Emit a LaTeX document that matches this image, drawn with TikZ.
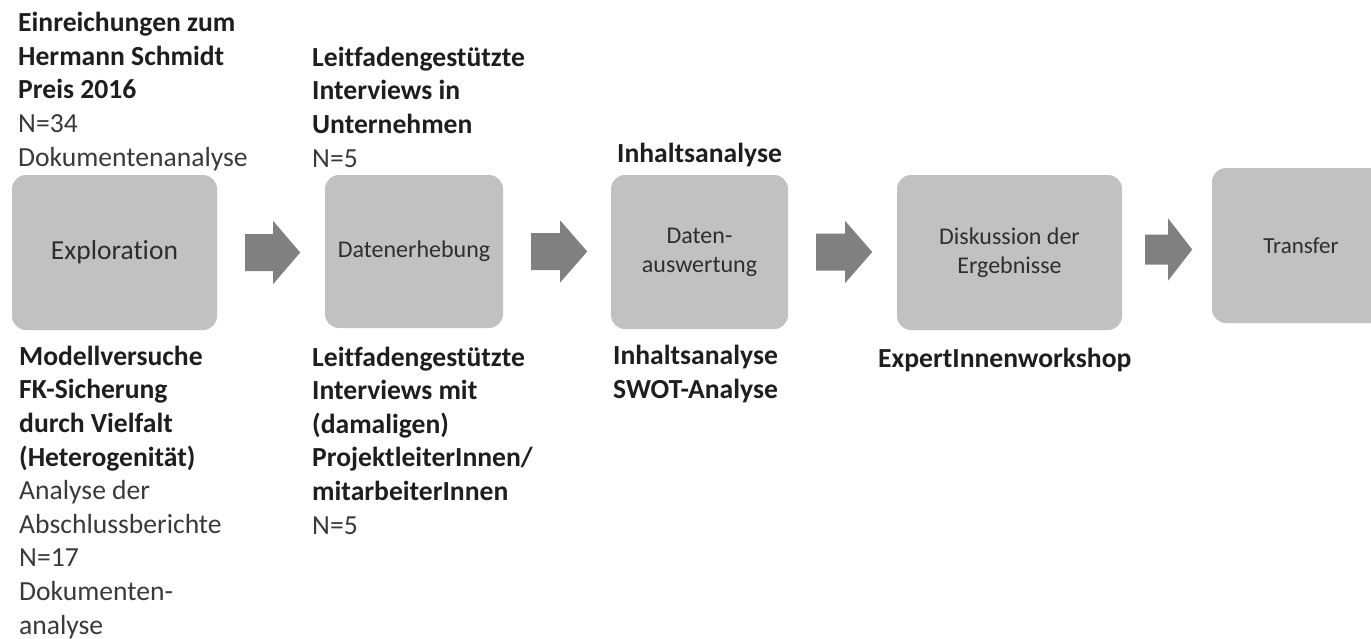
\documentclass[tikz,border=0pt]{standalone}
\usepackage{fontspec}
\setmainfont[Ligatures=CommonOff]{Carlito}
\usetikzlibrary{calc}
\definecolor{boxfill}{HTML}{C1C1C1}
\definecolor{arrowfill}{HTML}{808080}
\definecolor{boldtxt}{HTML}{1E1E1E}
\definecolor{regtxt}{HTML}{3A3A3A}
\definecolor{boxtxt}{HTML}{2E2E2E}
\tikzset{
  stepbox/.style={rectangle, rounded corners=14pt, fill=boxfill, draw=none, inner sep=0pt,
    align=center, text=boxtxt, font=\fontsize{24}{29}\selectfont},
  label/.style={anchor=base west, align=left, inner sep=0pt, text=regtxt,
    font=\fontsize{27.6}{33.6}\selectfont},
}
\newcommand{\bt}[1]{\textcolor{boldtxt}{\bfseries #1}}
% block arrow: #1 = start coordinate (left end, on axis), #2 length, #3 head length, #4 shaft half height, #5 head half height
\newcommand{\blockarrow}[5]{%
  \fill[arrowfill] (#1) ++(0,-#4) -- ++({#2-#3},0) -- ++(0,{#4-#5}) -- ++(#3,#5)
    -- ++(-#3,#5) -- ++(0,{#4-#5}) -- ++({-(#2-#3)},0) -- cycle;}
\begin{document}
\begin{tikzpicture}[x=1pt,y=-1pt]
\useasboundingbox (0,0) rectangle (1371,638);
\fill[white] (0,0) rectangle (1371,638);
\clip (0,0) rectangle (1371,638);

% boxes
\node[stepbox, minimum width=205pt, minimum height=155pt, font=\fontsize{27.5}{33}\selectfont] (b1) at (114.5,252.5) {Exploration};
\node[stepbox, minimum width=178pt, minimum height=153pt] (b2) at (414,251.5) {Datenerhebung};
\node[stepbox, minimum width=177pt, minimum height=154pt] (b3) at (699.5,252) {Daten-\\auswertung};
\node[stepbox, minimum width=225pt, minimum height=155pt] (b4) at (1009.5,252.5) {Diskussion der\\Ergebnisse};
\node[stepbox, minimum width=178pt, minimum height=155pt, font=\fontsize{23}{28}\selectfont] (b5) at (1301,245.5) {Transfer};

% arrows between boxes
\coordinate (a1) at ($(b1.east)+(28,0)$);
\coordinate (a2) at ($(b2.east)+(28,0)$);
\coordinate (a3) at ($(b3.east)+(28,0)$);
\coordinate (a4) at ($(b4.east)+(23,-3)$);
\blockarrow{a1}{55}{27}{18.5}{31.5}
\blockarrow{a2}{56}{27}{18.5}{31}
\blockarrow{a3}{56}{27}{18.5}{31}
\blockarrow{a4}{47}{24}{15}{31}

% labels above (anchored at the baseline of their last line)
\node[label] (t1) at (18,166) {\bt{Einreichungen zum}\\\bt{Hermann Schmidt}\\\bt{Preis 2016}\\N=34\\Dokumentenanalyse};
\node[label] (t2) at (312,167) {\bt{Leitfadengestützte}\\\bt{Interviews in}\\\bt{Unternehmen}\\N=5};
\node[label] (t3) at (617,162) {\bt{Inhaltsanalyse}};

% labels below
\node[label] (u1) at (19,634) {\bt{Modellversuche}\\\bt{FK-Sicherung}\\\bt{durch Vielfalt}\\\bt{(Heterogenität)}\\Analyse der\\Abschlussberichte\\N=17\\Dokumenten-\\analyse};
\node[label] (u2) at (312,534) {\bt{Leitfadengestützte}\\\bt{Interviews mit}\\\bt{(damaligen)}\\\bt{ProjektleiterInnen/}\\\bt{mitarbeiterInnen}\\N=5};
\node[label] (u3) at (613,398.5) {\bt{Inhaltsanalyse}\\\bt{SWOT-Analyse}};
\node[label] (u4) at (878,367) {\bt{ExpertInnenworkshop}};
\end{tikzpicture}
\end{document}
